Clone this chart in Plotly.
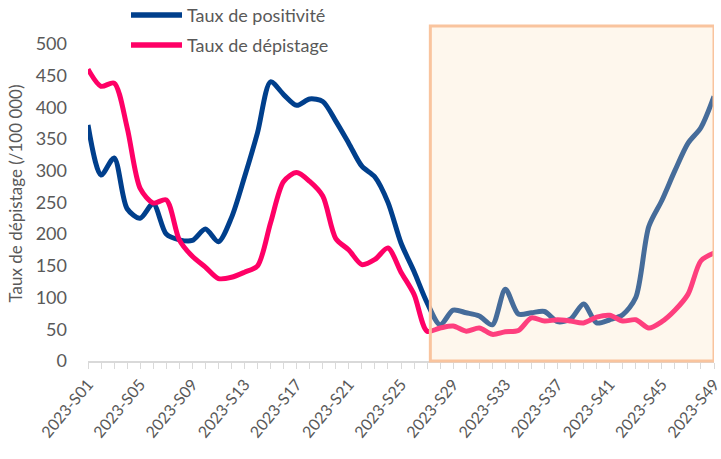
import plotly.graph_objects as go

weeks = [f"2023-S{i:02d}" for i in range(1, 50)]
tick_labels = [w if (i % 4 == 0) else "" for i, w in enumerate(weeks)]

positivite = [372, 293, 320, 240, 225, 248, 200, 191, 190, 208,
              188, 226, 290, 360, 440, 420, 403, 413, 409, 378,
              343, 307, 290, 250, 186, 141, 92, 57, 80, 76,
              71, 57, 113, 74, 76, 78, 62, 66, 90, 60,
              65, 73, 100, 212, 253, 300, 343, 368, 417]

depistage = [460, 433, 438, 368, 272, 249, 254, 191, 165, 148,
             130, 132, 140, 150, 218, 283, 297, 283, 260, 193,
             175, 152, 160, 178, 140, 105, 47, 52, 55, 47,
             52, 42, 46, 48, 68, 63, 65, 63, 60, 69,
             72, 63, 65, 52, 62, 80, 105, 158, 170]

series_names = ["Taux de positivité", "Taux de dépistage"]
colors = ["#003F8C", "#FF0066"]

GREY = "#595959"
FONT = "Lato"

L, R = 88, 714  # plot-area pixel edges
PW = R - L

fig = go.Figure()
for name, vals, col in zip(series_names, [positivite, depistage], colors):
    fig.add_trace(go.Scatter(x=weeks, y=vals, mode="lines", name=name,
                             line=dict(color=col, width=5, shape="spline", smoothing=0.8),
                             showlegend=False, cliponaxis=False))

# highlighted period
fig.add_shape(type="rect", xref="x", yref="y domain", x0=26.25, x1=48, y0=0, y1=1,
              fillcolor="rgba(251,226,189,0.28)", line=dict(color="#F9C49E", width=3),
              layer="above")

# custom legend
for k, (name, col) in enumerate(zip(series_names, colors)):
    ypix = 15 + 30 * k
    yp = (361 - ypix) / 335
    fig.add_shape(type="line", xref="paper", yref="paper",
                  x0=(131 - L) / PW, x1=(182 - L) / PW, y0=yp, y1=yp,
                  line=dict(color=col, width=5.5))
    fig.add_annotation(xref="paper", yref="paper", x=(185 - L) / PW, y=yp,
                       text=name, showarrow=False, xanchor="left", yanchor="middle",
                       font=dict(family=FONT, size=18, color=GREY))

fig.update_layout(
    width=721, height=459,
    margin=dict(l=L, r=721 - R, t=26, b=98),
    paper_bgcolor="white", plot_bgcolor="white",
    font=dict(family=FONT, color=GREY),
    xaxis=dict(type="category", range=[0, 48], tickmode="array", tickvals=weeks,
               ticktext=tick_labels, tickangle=-50, ticks="outside", ticklen=6,
               tickcolor="#D9D9D9", tickwidth=1, showline=True, linecolor="#D9D9D9",
               linewidth=1.5, showgrid=False, zeroline=False, automargin=False,
               tickfont=dict(family=FONT, size=16, color=GREY)),
    yaxis=dict(range=[0, 528], tickmode="array", tickvals=list(range(0, 501, 50)),
               showgrid=False, zeroline=False, showline=False, ticks="",
               ticklabelstandoff=20, automargin=False,
               tickfont=dict(family=FONT, size=18, color=GREY),
               title=dict(text="Taux de dépistage (/100 000)", standoff=8,
                          font=dict(family=FONT, size=17, color=GREY))),
)

fig.write_html("out.html", config={"displayModeBar": False},
               post_script="document.body.style.margin='0';document.body.style.overflow='hidden';")
